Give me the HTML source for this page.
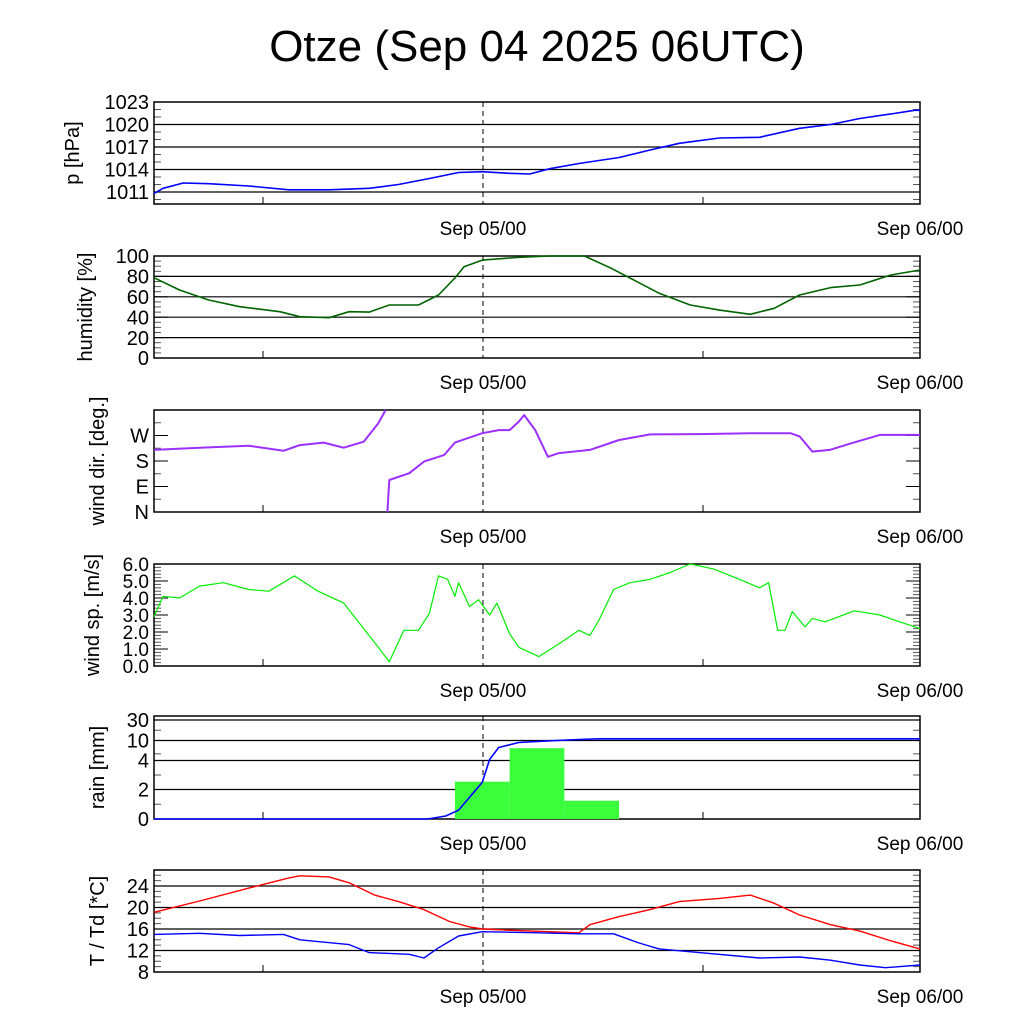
<!DOCTYPE html>
<html><head><meta charset="utf-8"><style>
html,body{margin:0;padding:0;background:#fff;}
svg text{font-family:"Liberation Sans",sans-serif;fill:#000;}
</style></head><body>
<svg id="chart" width="1024" height="1024" xmlns="http://www.w3.org/2000/svg">
<rect width="1024" height="1024" fill="#fff"/>
<text x="537" y="61" font-size="44" text-anchor="middle">Otze (Sep 04 2025 06UTC)</text>
</svg>
<script>
// ---- data (hours relative to Sep 05/00 UTC) ----
const pHours = [-18,-17.5,-16.4,-15,-12.8,-10.6,-8.4,-6.2,-4.6,-2.9,-1.3,0,1.5,2.6,3.7,5.3,7.5,9.2,10.8,13,15.2,17.4,19.1,20.7,22.4,23.7,24];
const pValues = [1010.8,1011.5,1012.2,1012.1,1011.8,1011.3,1011.3,1011.5,1012.0,1012.8,1013.6,1013.7,1013.5,1013.4,1014.1,1014.8,1015.6,1016.6,1017.5,1018.2,1018.3,1019.5,1020.0,1020.8,1021.4,1021.9,1021.9];

const hHours = [-18,-16.6,-15,-13.3,-11.1,-10,-8.4,-7.3,-6.2,-5.1,-3.5,-2.4,-1.5,-1,0,2,3.7,5.6,7,8.1,9.7,11.4,13,14.7,16,17.4,19.1,20.7,22.4,24];
const hValues = [78.7,66.7,56.9,50.3,45.4,40.5,39.5,45.4,45,52,52,61.8,78.4,89.5,96,98.7,100,100,88.5,78.4,63.4,52,47,42.8,48.7,61.8,69,71.6,81.4,86.3];

const dHours = [-18,-15.5,-12.8,-10.9,-10,-8.7,-7.6,-6.5,-5.7,-5.3,-5.2,-5.1,-4,-3.2,-2.1,-1.5,0,0.9,1.5,2,2.3,2.9,3.6,4.2,5.9,7.5,9.2,11.9,14.7,16.9,17.4,18.1,19.1,20.2,21.8,24];
const dValues = [219,227,234,216,236,245,227,248,313,360,0,113,137,178,201,245,278,289,289,319,342,289,195,208,219,254,274,275,278,278,267,213,220,242,272,272];

const sHours = [-18,-17.5,-16.6,-15.5,-14.2,-12.8,-11.7,-10.3,-9,-7.6,-6.8,-5.7,-5.1,-4.3,-3.5,-2.9,-2.4,-1.9,-1.5,-1.3,-0.7,-0.2,0.4,0.8,1.5,2,3.1,4.2,5.3,5.9,6.4,7.2,8.1,9.2,10.3,11.4,12.7,14.1,15.2,15.7,16.2,16.6,17,17.7,18.1,18.8,20.4,21.8,22.6,24];
const sValues = [2.9,4.1,4.0,4.7,4.9,4.5,4.4,5.3,4.4,3.7,2.6,1.1,0.25,2.1,2.1,3.1,5.3,5.1,4.1,4.9,3.5,3.9,3.0,3.7,1.9,1.1,0.55,1.3,2.1,1.8,2.7,4.5,4.9,5.1,5.5,6.0,5.7,5.1,4.6,4.9,2.1,2.1,3.2,2.3,2.8,2.6,3.25,3.0,2.7,2.2];

const rainBarHours = [0,3,6];
const rainBarValues = [2.54,7.7,1.24];
const rainBarWidth = 3;
const rainCumHours = [-18,-3,-2,-1.3,0,0.4,0.9,2,3.7,5.3,6.4,24];
const rainCumValues = [0,0,0.2,0.6,2.5,4.3,7.9,9.4,9.9,11,11.7,11.7];

const tHours = [-18,-15.5,-12.8,-10.6,-10,-8.4,-7.3,-5.9,-4.6,-3.2,-1.8,-0.7,0,2,5.3,5.9,7.5,9.2,10.8,13,14.7,16,17.4,19.1,20.7,22.4,24];
const tValues = [19.1,21.2,23.6,25.5,25.9,25.7,24.6,22.3,21.1,19.6,17.4,16.4,16,15.7,15.3,16.8,18.3,19.6,21.1,21.7,22.3,20.8,18.6,16.8,15.6,13.8,12.3];
const tdHours = [-18,-15.5,-13.3,-10.9,-10,-7.3,-6.2,-4,-3.2,-2.4,-1.3,0,3.1,5.3,7.2,8.6,9.7,11.9,15.2,17.4,19.1,20.7,22.1,24];
const tdValues = [15,15.2,14.8,15,14,13.1,11.6,11.3,10.6,12.5,14.7,15.5,15.3,15.1,15.1,13.4,12.3,11.6,10.6,10.8,10.2,9.3,8.8,9.3];

// ---- layout ----
const X0=154, X1=920, H0=-18, H1=24;
const xs = h => X0 + (h-H0)/(H1-H0)*(X1-X0);
const svg = document.getElementById('chart');
const NS='http://www.w3.org/2000/svg';
function mk(tag, attrs, parent){const e=document.createElementNS(NS,tag);for(const k in attrs)e.setAttribute(k,attrs[k]);(parent||svg).appendChild(e);return e;}
function linMap(v0,v1,y0,y1){return v=>y0+(v-v0)/(v1-v0)*(y1-y0);}
function pwMap(vals,pys){return v=>{for(let i=0;i<vals.length-1;i++){if(v<=vals[i+1]||i==vals.length-2){return pys[i]+(v-vals[i])/(vals[i+1]-vals[i])*(pys[i+1]-pys[i]);}}};}

function panel(name, top, bot, ys, grid, majors, minors, ylabel, labelX, tickFont){
  const g=mk('g',{});
  
  
  grid.forEach(v=>{
    const l=mk('line',{x1:X0,x2:X1,y1:ys(v),y2:ys(v),stroke:'#000','stroke-width':1.2},g);
    
    
  });
  minors.forEach(v=>{
    mk('line',{x1:X0,x2:X0+7,y1:ys(v),y2:ys(v),stroke:'#555','stroke-width':1},g);
    mk('line',{x1:X1-7,x2:X1,y1:ys(v),y2:ys(v),stroke:'#555','stroke-width':1},g);
  });
  const fs = tickFont||20;
  majors.forEach(m=>{
    mk('line',{x1:X0,x2:X0+14,y1:ys(m[0]),y2:ys(m[0]),stroke:'#000','stroke-width':1},g);
    mk('line',{x1:X1-14,x2:X1,y1:ys(m[0]),y2:ys(m[0]),stroke:'#000','stroke-width':1},g);
    const t=mk('text',{x:149,y:ys(m[0])+fs*0.36,'font-size':fs,'text-anchor':'end'},g);
    t.textContent=m[1];
    
    
  });
  [263,703].forEach(x=>mk('line',{x1:x,x2:x,y1:bot,y2:bot-7,stroke:'#000','stroke-width':1},g));
  const d=mk('line',{x1:483,x2:483,y1:top,y2:bot,stroke:'#000','stroke-width':1,'stroke-dasharray':'5,4'},g);
  
  
  const r=mk('rect',{x:X0,y:top,width:X1-X0,height:bot-top,fill:'none',stroke:'#000','stroke-width':1.5},g);
  
  
  const cy=(top+bot)/2;
  const yl=mk('text',{x:labelX,y:cy,'font-size':20,'text-anchor':'middle',transform:`rotate(-90 ${labelX} ${cy})`},g);
  yl.textContent=ylabel;
  
  
  [[483,'Sep 05/00'],[920,'Sep 06/00']].forEach(p=>{
    const t=mk('text',{x:p[0],y:bot+31,'font-size':19,'text-anchor':'middle'},g);
    t.textContent=p[1];
    
    
  });
  return g;
}
function line(g,name,hrs,vals,ys,color,w,breakJump){
  let d='',prev=null;
  hrs.forEach((h,i)=>{
    const cmd = (prev===null || (breakJump && Math.abs(vals[i]-prev)>breakJump))?'M':'L';
    d+=cmd+xs(h).toFixed(1)+' '+ys(vals[i]).toFixed(1)+' ';
    prev=vals[i];
  });
  const p=mk('path',{d:d,fill:'none',stroke:color,'stroke-width':w,'stroke-linejoin':'round'},g);
  
  
}
const range=(a,b,s)=>{const r=[];for(let v=a;v<=b+1e-9;v+=s)r.push(+v.toFixed(3));return r;};

// pressure
const yP=linMap(1023,1011,102,192);
let g=panel('pressure',102,204,yP,[1011,1014,1017,1020],[[1023,'1023'],[1020,'1020'],[1017,'1017'],[1014,'1014'],[1011,'1011']],range(1010,1022,1),'p [hPa]',79);
line(g,'pressure-line',pHours,pValues,yP,'#0000ff',1.6);

// humidity
const yH=linMap(0,100,358,256);
g=panel('humidity',256,358,yH,[20,40,60,80],[[100,'100'],[80,'80'],[60,'60'],[40,'40'],[20,'20'],[0,'0']],range(5,95,5),'humidity [%]',92);
line(g,'humidity-line',hHours,hValues,yH,'#006400',1.6);

// wind direction
const yD=linMap(0,360,512,410);
g=panel('wind-dir',410,512,yD,[],[[270,'W'],[180,'S'],[90,'E'],[0,'N']],[45,135,225,315],'wind dir. [deg.]',104);
line(g,'wind-direction-line',dHours,dValues,yD,'#9b30ff',2,180);

// wind speed
const yS=linMap(0,6,666,564);
g=panel('wind-speed',564,666,yS,[],[[6,'6.0'],[5,'5.0'],[4,'4.0'],[3,'3.0'],[2,'2.0'],[1,'1.0'],[0,'0.0']],range(0.2,5.8,0.2),'wind sp. [m/s]',99,19);
line(g,'wind-speed-line',sHours,sValues,yS,'#00ee00',1.2);

// rain
const yR=pwMap([0,2,4,10,30,40],[819,789.5,760.5,740.5,720,716]);
g=panel('rain',716,819,yR,[2,4,10,30],[[30,'30'],[10,'10'],[4,'4'],[2,'2'],[0,'0']],[1,3,6,20],'rain [mm]',104);
rainBarHours.forEach((h,i)=>{
  const b=mk('rect',{x:xs(h-rainBarWidth/2),y:yR(rainBarValues[i]),width:xs(h+rainBarWidth/2)-xs(h-rainBarWidth/2),height:yR(0)-yR(rainBarValues[i]),fill:'#3cff3c'},g);
  
  
});
line(g,'rain-cumulative-line',rainCumHours,rainCumValues,yR,'#0000ff',1.6);

// temperature
const yT=linMap(8,24,972,886);
g=panel('temperature',870,972,yT,[12,16,20,24],[[24,'24'],[20,'20'],[16,'16'],[12,'12'],[8,'8']],range(9,27,1),'T / Td [*C]',104);
line(g,'temperature-line',tHours,tValues,yT,'#ff0000',1.4);
line(g,'dewpoint-line',tdHours,tdValues,yT,'#0000ff',1.4);
</script>
</body></html>
